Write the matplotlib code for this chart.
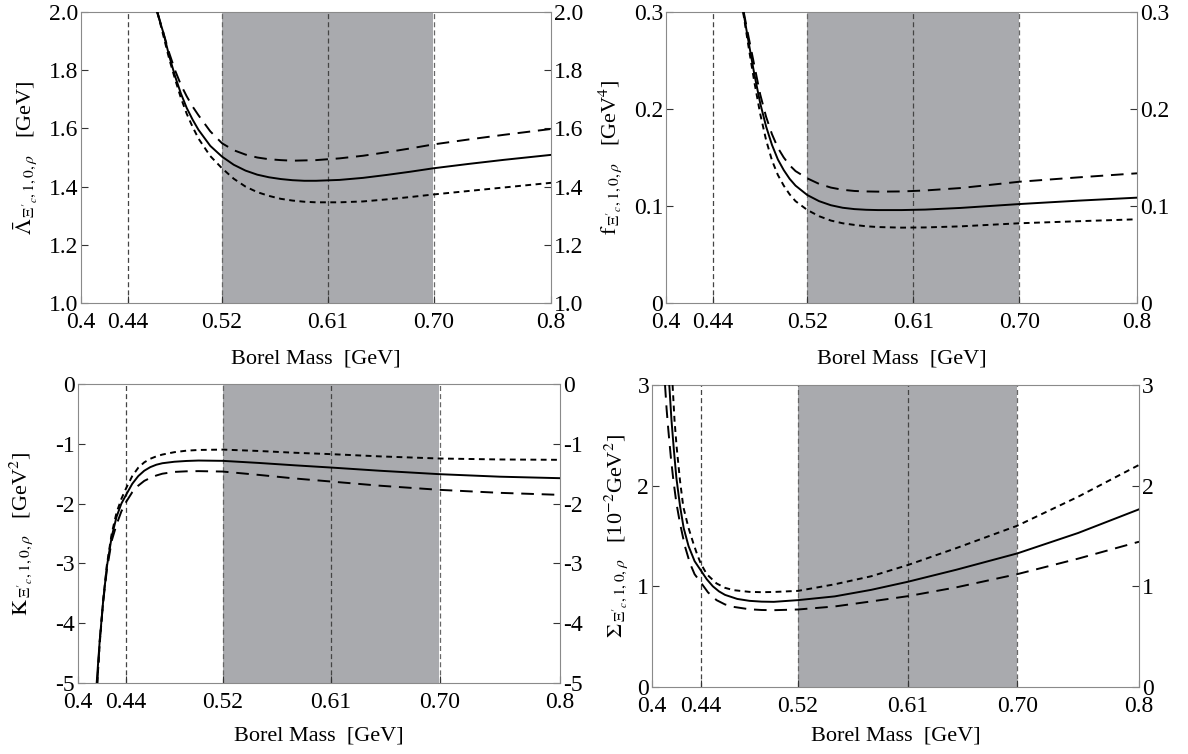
import numpy as np
import matplotlib
matplotlib.use("Agg")
import matplotlib.pyplot as plt

plt.rcParams['font.family'] = ['Liberation Serif', 'DejaVu Serif']
plt.rcParams['mathtext.fontset'] = 'stix'

# ---------------- data ----------------
xticks = [0.4, 0.44, 0.52, 0.61, 0.70, 0.8]
xticklabels = ['0.4', '0.44', '0.52', '0.61', '0.70', '0.8']
vlines = [0.44, 0.52, 0.61, 0.70]
band = (0.52, 0.70)

# Panel 1: Lambda-bar
lam_M_solid = [0.4647, 0.47, 0.475, 0.48, 0.485, 0.49, 0.495, 0.50, 0.51, 0.52, 0.53, 0.54, 0.55, 0.56, 0.57, 0.58, 0.59, 0.60, 0.62, 0.64, 0.66, 0.68, 0.70, 0.73, 0.76, 0.80]
lam_solid = [2.00, 1.93, 1.85, 1.78, 1.72, 1.67, 1.63, 1.595, 1.54, 1.503, 1.475, 1.455, 1.441, 1.432, 1.426, 1.422, 1.420, 1.420, 1.423, 1.430, 1.440, 1.451, 1.463, 1.478, 1.492, 1.509]
lam_M_long = [0.465, 0.47, 0.475, 0.48, 0.485, 0.49, 0.495, 0.50, 0.51, 0.52, 0.53, 0.54, 0.55, 0.56, 0.57, 0.58, 0.60, 0.62, 0.64, 0.66, 0.68, 0.70, 0.73, 0.76, 0.80]
lam_long = [2.00, 1.93, 1.86, 1.80, 1.75, 1.71, 1.675, 1.645, 1.59, 1.549, 1.525, 1.51, 1.50, 1.494, 1.491, 1.489, 1.491, 1.497, 1.506, 1.518, 1.531, 1.545, 1.562, 1.578, 1.598]
lam_M_short = [0.465, 0.47, 0.475, 0.48, 0.485, 0.49, 0.495, 0.50, 0.51, 0.52, 0.53, 0.54, 0.55, 0.56, 0.57, 0.58, 0.59, 0.60, 0.62, 0.64, 0.66, 0.68, 0.70, 0.73, 0.76, 0.80]
lam_short = [2.00, 1.92, 1.84, 1.77, 1.705, 1.65, 1.605, 1.565, 1.505, 1.463, 1.427, 1.40, 1.381, 1.368, 1.358, 1.352, 1.348, 1.346, 1.346, 1.349, 1.356, 1.364, 1.373, 1.385, 1.397, 1.413]

# Panel 2: f
f_M_solid = [0.4657, 0.47, 0.475, 0.48, 0.485, 0.49, 0.495, 0.50, 0.505, 0.51, 0.52, 0.53, 0.54, 0.55, 0.56, 0.57, 0.58, 0.60, 0.62, 0.65, 0.70, 0.75, 0.80]
f_solid = [0.300, 0.270, 0.236, 0.206, 0.182, 0.163, 0.148, 0.137, 0.128, 0.121, 0.1113, 0.105, 0.1008, 0.0982, 0.0968, 0.0961, 0.0958, 0.0958, 0.0963, 0.0980, 0.1020, 0.1055, 0.1086]
f_M_long = [0.466, 0.47, 0.475, 0.48, 0.485, 0.49, 0.495, 0.50, 0.505, 0.51, 0.52, 0.53, 0.54, 0.55, 0.56, 0.57, 0.58, 0.60, 0.62, 0.65, 0.70, 0.75, 0.80]
f_long = [0.300, 0.275, 0.245, 0.215, 0.192, 0.174, 0.160, 0.150, 0.142, 0.136, 0.1285, 0.1228, 0.119, 0.1167, 0.1155, 0.1150, 0.1148, 0.1150, 0.1160, 0.1185, 0.1250, 0.1295, 0.1337]
f_M_short = [0.4655, 0.47, 0.475, 0.48, 0.485, 0.49, 0.495, 0.50, 0.505, 0.51, 0.52, 0.53, 0.54, 0.55, 0.56, 0.57, 0.58, 0.60, 0.62, 0.65, 0.70, 0.75, 0.80]
f_short = [0.300, 0.265, 0.228, 0.195, 0.168, 0.147, 0.132, 0.121, 0.112, 0.105, 0.0959, 0.0895, 0.0850, 0.0822, 0.0805, 0.0791, 0.0783, 0.0777, 0.0779, 0.0790, 0.0822, 0.0843, 0.0863]

# Panel 3: K
k_M_solid = [0.4155, 0.418, 0.421, 0.424, 0.428, 0.432, 0.436, 0.44, 0.445, 0.45, 0.455, 0.46, 0.465, 0.47, 0.48, 0.49, 0.50, 0.52, 0.55, 0.58, 0.61, 0.65, 0.70, 0.75, 0.80]
k_solid = [-5.0, -4.3, -3.6, -3.05, -2.55, -2.22, -2.0, -1.85, -1.67, -1.54, -1.45, -1.39, -1.35, -1.325, -1.30, -1.287, -1.28, -1.285, -1.32, -1.36, -1.397, -1.45, -1.508, -1.55, -1.575]
k_M_long = [0.416, 0.418, 0.421, 0.424, 0.428, 0.432, 0.436, 0.44, 0.445, 0.45, 0.455, 0.46, 0.465, 0.47, 0.48, 0.49, 0.50, 0.52, 0.55, 0.58, 0.61, 0.65, 0.70, 0.75, 0.80]
k_long = [-5.0, -4.3, -3.62, -3.1, -2.62, -2.35, -2.13, -1.97, -1.81, -1.70, -1.62, -1.57, -1.53, -1.50, -1.47, -1.46, -1.457, -1.464, -1.52, -1.58, -1.631, -1.70, -1.77, -1.82, -1.854]
k_M_short = [0.416, 0.418, 0.421, 0.424, 0.428, 0.432, 0.436, 0.44, 0.445, 0.45, 0.455, 0.46, 0.465, 0.47, 0.48, 0.49, 0.50, 0.52, 0.55, 0.58, 0.61, 0.65, 0.70, 0.75, 0.80]
k_short = [-5.0, -4.35, -3.6, -3.02, -2.5, -2.15, -1.92, -1.74, -1.54, -1.40, -1.31, -1.25, -1.21, -1.18, -1.14, -1.115, -1.103, -1.097, -1.12, -1.15, -1.173, -1.21, -1.246, -1.262, -1.268]

# Panel 4: Sigma
s_M_solid = [0.4142, 0.416, 0.418, 0.420, 0.423, 0.426, 0.430, 0.435, 0.44, 0.445, 0.45, 0.455, 0.46, 0.47, 0.48, 0.49, 0.50, 0.52, 0.55, 0.58, 0.61, 0.65, 0.70, 0.75, 0.80]
s_solid = [3.0, 2.65, 2.35, 2.08, 1.80, 1.58, 1.40, 1.25, 1.16, 1.07, 1.00, 0.95, 0.915, 0.875, 0.856, 0.848, 0.846, 0.863, 0.90, 0.965, 1.045, 1.165, 1.327, 1.53, 1.765]
s_M_short = [0.4169, 0.4185, 0.4202, 0.423, 0.4257, 0.43, 0.4339, 0.437, 0.44, 0.445, 0.453, 0.46, 0.467, 0.48, 0.49, 0.50, 0.52, 0.55, 0.58, 0.61, 0.65, 0.70, 0.75, 0.80]
s_short = [3.0, 2.65, 2.39, 2.05, 1.79, 1.58, 1.43, 1.32, 1.228, 1.12, 1.029, 0.985, 0.962, 0.945, 0.942, 0.944, 0.955, 1.02, 1.10, 1.211, 1.38, 1.602, 1.89, 2.206]
s_M_long = [0.4107, 0.412, 0.4134, 0.4155, 0.4175, 0.42, 0.423, 0.427, 0.4312, 0.435, 0.44, 0.446, 0.453, 0.46, 0.467, 0.48, 0.49, 0.50, 0.52, 0.55, 0.58, 0.61, 0.65, 0.70, 0.75, 0.80]
s_long = [3.0, 2.76, 2.555, 2.28, 2.06, 1.83, 1.626, 1.40, 1.228, 1.12, 1.04, 0.94, 0.863, 0.82, 0.796, 0.772, 0.765, 0.763, 0.770, 0.80, 0.85, 0.902, 0.99, 1.121, 1.275, 1.443]

panels = [
    dict(rect=(81, 12, 551, 303), ylim=(1.0, 2.0), yticks=[1.0, 1.2, 1.4, 1.6, 1.8, 2.0],
         yticklabels=['1.0', '1.2', '1.4', '1.6', '1.8', '2.0'],
         ylabel=r"$\bar{\Lambda}_{\,\Xi'_{c},1,0,\rho}$   [GeV]",
         solid=(lam_M_solid, lam_solid), long=(lam_M_long, lam_long), short=(lam_M_short, lam_short),
         xlab_off=56, ylab_off=55),
    dict(rect=(666, 12, 1137, 303), ylim=(0.0, 0.3), yticks=[0.0, 0.1, 0.2, 0.3],
         yticklabels=['0', '0.1', '0.2', '0.3'],
         ylabel=r"$\mathrm{f}_{\,\Xi'_{c},1,0,\rho}$   [GeV$^4$]",
         solid=(f_M_solid, f_solid), long=(f_M_long, f_long), short=(f_M_short, f_short),
         xlab_off=56, ylab_off=56),
    dict(rect=(78, 384, 560, 683), ylim=(-5.0, 0.0), yticks=[-5, -4, -3, -2, -1, 0],
         yticklabels=['-5', '-4', '-3', '-2', '-1', '0'],
         ylabel=r"$\mathrm{K}_{\,\Xi'_{c},1,0,\rho}$   [GeV$^2$]",
         solid=(k_M_solid, k_solid), long=(k_M_long, k_long), short=(k_M_short, k_short),
         xlab_off=53, ylab_off=57),
    dict(rect=(652, 385, 1139, 687), ylim=(0.0, 3.0), yticks=[0, 1, 2, 3],
         yticklabels=['0', '1', '2', '3'],
         ylabel=r"$\Sigma_{\,\Xi'_{c},1,0,\rho}$   [10$^{\mathsf{-}2}$GeV$^2$]",
         solid=(s_M_solid, s_solid), long=(s_M_long, s_long), short=(s_M_short, s_short),
         xlab_off=49, ylab_off=36),
]

W, H = 1188, 754
fig = plt.figure(figsize=(W / 100, H / 100), dpi=100)

shade = '#a9aaae'
spine_c = '#8a8a8a'
FS_TICK = 17
FS_LAB = 16

for p in panels:
    l, t, r, b = p['rect']
    ax = fig.add_axes([l / W, 1 - b / H, (r - l) / W, (b - t) / H])
    ax.set_xlim(0.4, 0.8)
    ax.set_ylim(*p['ylim'])
    ax.axvspan(band[0], band[1], color=shade, lw=0, zorder=0)
    for v in vlines:
        ax.axvline(v, color='#444444' if v in (0.44, 0.61) else '#666666', lw=0.9,
                   dashes=(4, 2.5), zorder=1)
    ax.plot(*p['solid'], color='black', lw=1.4, zorder=3)
    ax.plot(*p['long'], color='black', lw=1.4, dashes=(6.5, 4), zorder=3)
    ax.plot(*p['short'], color='black', lw=1.4, dashes=(3, 2.3), zorder=3)

    ax.set_xticks(xticks)
    ax.set_xticklabels(xticklabels)
    ax.set_yticks(p['yticks'])
    ax.set_yticklabels(p['yticklabels'])
    ax.tick_params(axis='x', direction='in', length=5, width=0.8, color='#333333',
                   labelsize=FS_TICK, pad=6.5, top=False)
    ax.tick_params(axis='y', direction='in', length=5, width=0.8, color='#333333',
                   labelsize=FS_TICK, pad=2, right=True, labelright=True)
    for s in ax.spines.values():
        s.set_color(spine_c)
        s.set_linewidth(0.8)

    ax.set_xlabel('Borel Mass  [GeV]', fontsize=FS_LAB)
    ax.xaxis.label.set_va('center')
    ax.xaxis.set_label_coords(0.5, -p['xlab_off'] / (b - t))
    ax.set_ylabel(p['ylabel'], fontsize=FS_LAB)
    ax.yaxis.label.set_va('center')
    ax.yaxis.set_label_coords(-p['ylab_off'] / (r - l), 0.5)

fig.savefig('out.png', dpi=100)
